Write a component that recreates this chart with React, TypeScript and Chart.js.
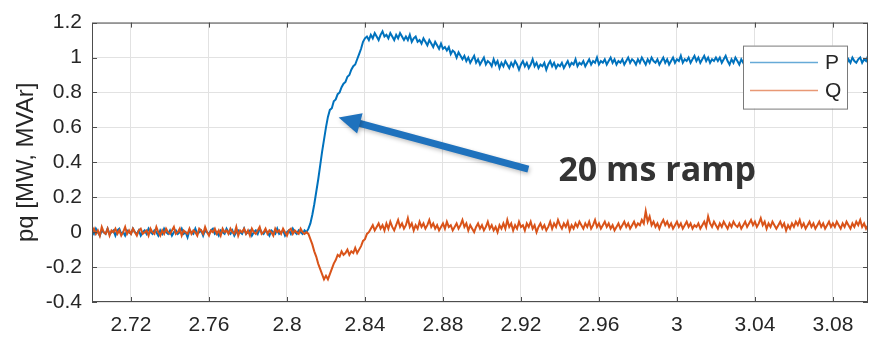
import React, { useEffect, useRef } from 'react';
import { Chart, registerables } from 'chart.js';

Chart.register(...registerables);

// ---- data -----------------------------------------------------------------
const SAMPLE_START = 2.7;
const SAMPLE_STEP = 0.001;

const SERIES_NAMES = ['P', 'Q'];

const P_VALUES = [
  0.01, -0.01, 0.02, 0.0, -0.02, 0.01, 0.0, -0.01, 0.02, -0.01,
  0.0, 0.01, -0.02, 0.01, 0.02, -0.01, 0.0, -0.02, 0.01, 0.0,
  -0.01, 0.02, 0.0, -0.01, 0.01, -0.02, 0.0, 0.01, -0.01, 0.02,
  0.0, -0.01, 0.01, 0.0, -0.02, 0.01, -0.01, 0.02, 0.0, -0.01,
  0.01, -0.02, 0.0, 0.01, -0.01, 0.0, 0.02, -0.01, 0.0, -0.03,
  0.01, 0.0, -0.01, 0.02, -0.01, 0.0, 0.01, -0.02, 0.01, 0.0,
  -0.01, 0.01, 0.02, -0.01, 0.0, -0.02, 0.01, 0.0, -0.01, 0.02,
  0.0, -0.01, 0.01, -0.02, 0.0, 0.01, 0.0, -0.01, 0.02, -0.01,
  0.0, 0.01, -0.02, 0.0, 0.01, -0.01, 0.02, 0.0, -0.01, 0.01,
  0.0, -0.02, 0.01, 0.0, -0.01, 0.02, -0.01, 0.0, 0.01, -0.02,
  0.0, 0.01, -0.01, 0.02, 0.0, -0.01, 0.01, 0.0, -0.01, 0.01,
  0.0,
  0.02, 0.05, 0.1, 0.16, 0.23, 0.3, 0.38, 0.46, 0.53, 0.6,
  0.66, 0.7, 0.71, 0.75, 0.76, 0.79, 0.8, 0.83, 0.85, 0.86,
  0.89, 0.9, 0.93, 0.95, 0.96, 0.99, 1.02, 1.05, 1.09, 1.11,
  1.12, 1.1, 1.13, 1.11, 1.14, 1.12, 1.1, 1.13, 1.15, 1.12,
  1.13, 1.11, 1.14, 1.12, 1.1, 1.13, 1.11, 1.14, 1.12, 1.1,
  1.12, 1.1, 1.13, 1.09, 1.11, 1.12, 1.09, 1.1, 1.08, 1.11,
  1.09, 1.07, 1.1, 1.08, 1.06, 1.09, 1.07, 1.05, 1.08, 1.05,
  1.06, 1.04, 1.06, 1.02, 1.04, 1.03, 1.0, 1.03, 1.01, 0.99,
  1.01, 0.98, 1.0, 0.97, 0.99, 1.01, 0.97, 0.99, 0.96, 0.98,
  1.0, 0.96, 0.98, 0.97, 0.95, 0.99, 0.96, 0.98, 0.94, 0.97,
  0.95, 0.98, 0.96, 0.94, 0.97, 0.95, 0.98, 0.96, 0.93, 0.96,
  0.98, 0.95, 0.97, 0.94, 0.96, 0.99, 0.95, 0.97, 0.94, 0.96,
  0.95, 0.97, 0.93, 0.96, 0.98, 0.95, 0.97, 0.94, 0.96, 0.95,
  0.97, 0.94, 0.96, 0.98, 0.95, 0.97, 0.96, 0.99, 0.95, 0.97,
  0.96, 0.98, 0.95, 0.97, 0.99, 0.96, 0.98, 0.97, 1.0, 0.96,
  0.98, 0.97, 0.99, 0.96, 0.98, 1.0, 0.97, 0.99, 0.96, 0.98,
  0.97, 0.99, 0.96, 0.98, 1.0, 0.97, 0.99, 0.98, 0.96, 0.99,
  0.97, 1.0, 0.98, 0.96, 0.99, 0.97, 1.0, 0.98, 0.97, 0.99,
  0.96, 0.98, 1.0, 0.97, 0.99, 0.96, 0.98, 1.0, 0.97, 0.99,
  0.98, 1.01, 0.97, 0.99, 0.98, 1.0, 0.97, 0.99, 1.01, 0.98,
  1.0, 0.97, 0.99, 1.01, 0.98, 1.0, 0.97, 0.99, 0.98, 1.0,
  0.98, 1.0, 0.97, 0.99, 1.01, 0.98, 0.96, 0.99, 0.97, 1.0,
  0.98, 0.96, 0.99, 0.97, 1.0, 0.98, 0.96, 0.99, 0.97, 0.99,
  0.96, 0.98, 1.0, 0.97, 0.99, 0.96, 0.98, 0.97, 0.99, 0.96,
  0.98, 1.0, 0.97, 0.99, 0.97, 0.98, 1.0, 0.96, 0.99, 0.97,
  0.99, 0.97, 1.0, 0.98, 0.96, 0.99, 0.97, 1.0, 0.98, 0.97,
  0.99, 0.97, 1.0, 0.98, 0.96, 0.99, 0.98, 1.0, 0.97, 0.99,
  0.98, 1.0, 0.97, 0.99, 1.01, 0.98, 0.96, 0.99, 0.97, 1.0,
  0.98, 0.97, 0.99, 1.0, 0.97, 0.99, 0.98, 1.01, 0.98, 0.99,
];

const Q_VALUES = [
  0.0, 0.02, -0.01, 0.01, -0.02, 0.03, 0.0, -0.01, 0.02, -0.02,
  0.01, 0.0, 0.02, -0.01, 0.01, -0.02, 0.0, 0.03, -0.01, 0.01,
  -0.01, 0.02, 0.0, -0.02, 0.01, 0.02, -0.01, 0.0, 0.01, -0.02,
  0.02, 0.0, -0.01, 0.03, 0.0, -0.02, 0.01, -0.01, 0.02, 0.0,
  -0.01, 0.01, 0.03, -0.01, 0.0, 0.02, -0.02, 0.01, 0.0, -0.01,
  0.02, -0.01, 0.01, 0.0, -0.02, 0.02, 0.01, -0.01, 0.03, 0.0,
  -0.02, 0.01, 0.0, 0.02, -0.01, 0.01, -0.02, 0.02, 0.0, 0.01,
  -0.01, 0.02, 0.0, -0.01, 0.03, -0.02, 0.01, 0.0, 0.02, -0.01,
  0.01, -0.02, 0.02, 0.0, -0.01, 0.01, 0.03, -0.01, 0.0, 0.02,
  -0.01, 0.01, 0.0, -0.02, 0.02, 0.0, 0.01, -0.01, 0.02, 0.0,
  -0.02, 0.01, 0.02, -0.01, 0.01, 0.0, -0.01, 0.02, 0.0, -0.01,
  0.0,
  -0.01, -0.04, -0.07, -0.11, -0.14, -0.18, -0.21, -0.24, -0.27, -0.25,
  -0.27, -0.24, -0.21, -0.18, -0.16, -0.13, -0.14, -0.11, -0.13, -0.12,
  -0.1, -0.13, -0.11, -0.12, -0.09, -0.12, -0.1, -0.08, -0.05, -0.04,
  -0.01, 0.0,
  0.02, 0.04, 0.01, 0.03, 0.05, 0.02, 0.04, 0.01,
  0.05, 0.02, 0.06, 0.03, 0.01, 0.04, 0.07, 0.03, 0.05, 0.02,
  0.04, 0.08, 0.03, 0.05, 0.01, 0.04, 0.02, 0.06, 0.03, 0.05,
  0.02, 0.04, 0.07, 0.03, 0.05, 0.02, 0.04, 0.01, 0.03, 0.05,
  0.02, 0.06, 0.03, 0.04, 0.01, 0.03, 0.05, 0.02, 0.04, 0.07,
  0.03, 0.05, 0.01, 0.04, 0.02, 0.0, 0.03, 0.05, 0.02, 0.04,
  0.01, 0.03, 0.06, 0.02, 0.04, 0.01, 0.03, 0.0, 0.04, 0.02,
  0.05, 0.02, 0.07, 0.03, 0.05, 0.01, 0.04, 0.02, 0.06, 0.03,
  0.04, 0.01, 0.05, 0.03, 0.06, 0.02, 0.04, 0.0, 0.03, 0.05,
  0.02, 0.04, 0.01, 0.03, 0.06, 0.02, 0.05, 0.03, 0.07, 0.04,
  0.02, 0.05, 0.03, 0.06, 0.01, 0.04, 0.02, 0.05, 0.03, 0.06,
  0.04, 0.02, 0.05, 0.03, 0.06, 0.02, 0.04, 0.07, 0.03, 0.05,
  0.02, 0.04, 0.06, 0.03, 0.05, 0.02, 0.04, 0.01, 0.03, 0.05,
  0.02, 0.04, 0.06, 0.03, 0.05, 0.02, 0.04, 0.06, 0.03, 0.05,
  0.04, 0.07, 0.05, 0.12, 0.06, 0.09, 0.04, 0.06, 0.03, 0.05,
  0.02, 0.05, 0.07, 0.04, 0.06, 0.03, 0.05, 0.02, 0.04, 0.06,
  0.03, 0.05, 0.02, 0.04, 0.06, 0.03, 0.05, 0.02, 0.04, 0.03,
  0.05, 0.02, 0.04, 0.06, 0.03, 0.09, 0.05, 0.03, 0.06, 0.04,
  0.02, 0.05, 0.03, 0.06, 0.04, 0.02, 0.05, 0.03, 0.06, 0.04,
  0.03, 0.05, 0.02, 0.04, 0.06, 0.03, 0.05, 0.07, 0.04, 0.06,
  0.03, 0.05, 0.08, 0.04, 0.06, 0.02, 0.05, 0.03, 0.06, 0.04,
  0.02, 0.04, 0.06, 0.03, 0.05, 0.01, 0.04, 0.02, 0.05, 0.03,
  0.06, 0.04, 0.07, 0.03, 0.05, 0.02, 0.04, 0.06, 0.03, 0.05,
  0.02, 0.04, 0.06, 0.03, 0.05, 0.02, 0.04, 0.06, 0.03, 0.05,
  0.03, 0.06, 0.04, 0.02, 0.05, 0.03, 0.06, 0.04, 0.02, 0.05,
  0.03, 0.06, 0.04, 0.07, 0.03, 0.05, 0.02, 0.04, 0.06, 0.04,
];

const X_TICKS = [2.72, 2.76, 2.8, 2.84, 2.88, 2.92, 2.96, 3.0, 3.04, 3.08];
const X_TICK_LABELS = ['2.72', '2.76', '2.8', '2.84', '2.88', '2.92', '2.96', '3', '3.04', '3.08'];
const Y_TICKS = [-0.4, -0.2, 0, 0.2, 0.4, 0.6, 0.8, 1, 1.2];
const Y_TICK_LABELS = ['-0.4', '-0.2', '0', '0.2', '0.4', '0.6', '0.8', '1', '1.2'];
const Y_AXIS_TITLE = 'pq [MW, MVAr]';

const ANNOTATION_TEXT = '20 ms ramp';
const ARROW_TIP = { x: 2.8265, y: 0.656 };
const ARROW_TAIL = { x: 2.9238, y: 0.361 };
const ANNOTATION_ANCHOR = { x: 2.9392, y: 0.294 };

// ---- styles ---------------------------------------------------------------
const COLORS = ['#0072BD', '#D95319'];
const AXIS_FONT = '"Liberation Sans", Arial, sans-serif';

const toPoints = (vals: number[]) =>
  vals.map((v, i) => ({ x: +(SAMPLE_START + i * SAMPLE_STEP).toFixed(3), y: v }));

const framePlugin = {
  id: 'matlabFrame',
  afterDatasetsDraw(chart: any) {
    const { ctx, chartArea: a, scales } = chart;
    ctx.save();
    // arrow
    const tx = scales.x.getPixelForValue(ARROW_TIP.x);
    const ty = scales.y.getPixelForValue(ARROW_TIP.y);
    const sx = scales.x.getPixelForValue(ARROW_TAIL.x);
    const sy = scales.y.getPixelForValue(ARROW_TAIL.y);
    const dx = tx - sx;
    const dy = ty - sy;
    const len = Math.hypot(dx, dy);
    const ux = dx / len;
    const uy = dy / len;
    const headLen = 22;
    const headHalf = 10.5;
    const bx = tx - ux * headLen;
    const by = ty - uy * headLen;
    ctx.shadowColor = 'rgba(0,0,0,0.25)';
    ctx.shadowBlur = 4;
    ctx.shadowOffsetX = 1;
    ctx.shadowOffsetY = 2;
    ctx.strokeStyle = '#1f72bd';
    ctx.fillStyle = '#1f72bd';
    ctx.lineWidth = 7;
    ctx.lineCap = 'butt';
    ctx.beginPath();
    ctx.moveTo(sx, sy);
    ctx.lineTo(bx + ux * 2, by + uy * 2);
    ctx.stroke();
    ctx.beginPath();
    ctx.moveTo(tx, ty);
    ctx.lineTo(bx - uy * headHalf, by + ux * headHalf);
    ctx.lineTo(bx + uy * headHalf, by - ux * headHalf);
    ctx.closePath();
    ctx.fill();
    ctx.shadowColor = 'transparent';
    ctx.shadowBlur = 0;
    ctx.shadowOffsetX = 0;
    ctx.shadowOffsetY = 0;

    // annotation text
    ctx.fillStyle = '#333333';
    ctx.font = 'bold 34px "Open Sans", sans-serif';
    ctx.textAlign = 'left';
    ctx.textBaseline = 'alphabetic';
    ctx.fillText(
      ANNOTATION_TEXT,
      scales.x.getPixelForValue(ANNOTATION_ANCHOR.x),
      scales.y.getPixelForValue(ANNOTATION_ANCHOR.y)
    );

    // frame
    ctx.strokeStyle = '#4d4d4d';
    ctx.lineWidth = 1;
    ctx.strokeRect(a.left + 0.5, a.top + 0.5, a.right - a.left - 1, a.bottom - a.top - 1);
    ctx.beginPath();
    X_TICKS.forEach((v) => {
      const px = Math.round(scales.x.getPixelForValue(v)) + 0.5;
      ctx.moveTo(px, a.bottom);
      ctx.lineTo(px, a.bottom - 5);
      ctx.moveTo(px, a.top);
      ctx.lineTo(px, a.top + 5);
    });
    Y_TICKS.forEach((v) => {
      const py = Math.round(scales.y.getPixelForValue(v)) + 0.5;
      ctx.moveTo(a.left, py);
      ctx.lineTo(a.left + 5, py);
      ctx.moveTo(a.right, py);
      ctx.lineTo(a.right - 5, py);
    });
    ctx.stroke();

    // legend
    const lw = 104;
    const lh = 63;
    const lx = a.right - 21 - lw;
    const ly = a.top + 23;
    ctx.fillStyle = '#ffffff';
    ctx.fillRect(lx, ly, lw, lh);
    ctx.strokeStyle = '#7a7a7a';
    ctx.strokeRect(lx + 0.5, ly + 0.5, lw, lh);
    ctx.font = `21px ${AXIS_FONT}`;
    ctx.textBaseline = 'middle';
    SERIES_NAMES.forEach((name, i) => {
      const yy = ly + 17 + i * 28;
      ctx.strokeStyle = COLORS[i];
      ctx.globalAlpha = 0.6;
      ctx.lineWidth = 1.5;
      ctx.beginPath();
      ctx.moveTo(lx + 7, yy);
      ctx.lineTo(lx + 75, yy);
      ctx.stroke();
      ctx.globalAlpha = 1;
      ctx.fillStyle = '#262626';
      ctx.fillText(name, lx + 82, yy + 1);
    });
    ctx.restore();
  },
};

export default function App() {
  const canvasRef = useRef<HTMLCanvasElement | null>(null);

  useEffect(() => {
    if (!canvasRef.current) return;
    const chart = new Chart(canvasRef.current, {
      type: 'line',
      data: {
        datasets: [
          {
            label: SERIES_NAMES[0],
            data: toPoints(P_VALUES),
            borderColor: COLORS[0],
            backgroundColor: COLORS[0],
            borderWidth: 2,
            pointRadius: 0,
            tension: 0,
            order: 2,
          },
          {
            label: SERIES_NAMES[1],
            data: toPoints(Q_VALUES),
            borderColor: COLORS[1],
            backgroundColor: COLORS[1],
            borderWidth: 2,
            pointRadius: 0,
            tension: 0,
            order: 1,
          },
        ],
      },
      options: {
        animation: false,
        responsive: true,
        maintainAspectRatio: false,
        devicePixelRatio: 1,
        layout: { padding: { top: 14, right: 2, left: 0, bottom: 0 } },
        plugins: {
          legend: { display: false },
          tooltip: { enabled: false },
          title: { display: false },
        },
        scales: {
          x: {
            type: 'linear',
            min: 2.7,
            max: 3.098,
            afterBuildTicks: (scale: any) => {
              scale.ticks = X_TICKS.map((v) => ({ value: v }));
            },
            afterFit: (scale: any) => {
              scale.height = 41;
            },
            ticks: {
              autoSkip: false,
              maxRotation: 0,
              padding: 11,
              color: '#262626',
              font: { family: AXIS_FONT, size: 21 },
              callback: (_v: any, i: number) => X_TICK_LABELS[i],
            },
            grid: { color: '#e2e2e2', lineWidth: 1, drawTicks: false },
            border: { display: false },
          },
          y: {
            type: 'linear',
            min: -0.4,
            max: 1.2,
            afterBuildTicks: (scale: any) => {
              scale.ticks = Y_TICKS.map((v) => ({ value: v }));
            },
            afterFit: (scale: any) => {
              scale.width = 92;
            },
            ticks: {
              autoSkip: false,
              padding: 10,
              color: '#262626',
              font: { family: AXIS_FONT, size: 21 },
              callback: (_v: any, i: number) => Y_TICK_LABELS[i],
            },
            grid: { color: '#e2e2e2', lineWidth: 1, drawTicks: false },
            border: { display: false },
            title: {
              display: true,
              text: Y_AXIS_TITLE,
              color: '#262626',
              font: { family: AXIS_FONT, size: 24 },
              padding: { top: 12, bottom: 0 },
            },
          },
        },
      },
      plugins: [framePlugin],
    });
    return () => chart.destroy();
  }, []);

  return (
    <div style={{ position: 'fixed', left: 0, top: 0, width: 870, height: 343, background: '#ffffff' }}>
      <canvas ref={canvasRef} />
    </div>
  );
}
